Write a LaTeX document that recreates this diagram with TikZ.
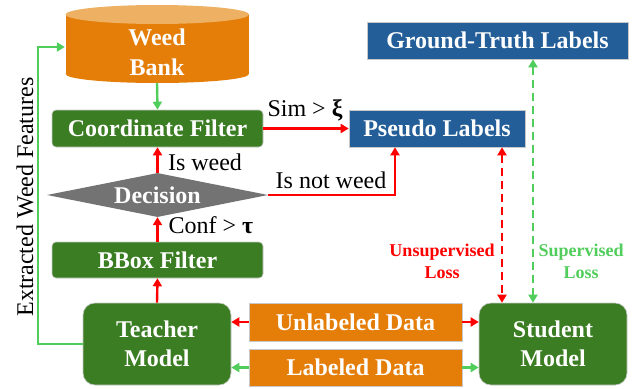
\documentclass[tikz,border=0pt]{standalone}
\usepackage{fontspec}
\setmainfont{Liberation Serif}
\usetikzlibrary{arrows.meta,shapes.geometric,calc}

\definecolor{tgreen}{RGB}{59,125,35}
\definecolor{torange}{RGB}{228,126,8}
\definecolor{ttop}{RGB}{238,176,98}
\definecolor{tblue}{RGB}{35,94,152}
\definecolor{tgray}{RGB}{115,115,115}
\definecolor{lgreen}{RGB}{80,205,90}
\definecolor{tred}{RGB}{255,0,0}
\definecolor{edge}{RGB}{200,200,200}

\tikzset{
  big/.style={font=\fontsize{24}{29}\selectfont\bfseries},
  gbox/.style={big, fill=tgreen, text=white, draw=edge, line width=0.6pt,
    rounded corners=4pt, inner sep=0pt, align=center},
  mbox/.style={gbox, rounded corners=12pt},
  obox/.style={big, fill=torange, text=white, draw=edge, line width=0.6pt, inner sep=0pt},
  bbox/.style={big, fill=tblue, text=white, draw=edge, line width=0.6pt, inner sep=0pt},
  lbl/.style={font=\fontsize{24}{26}\selectfont, inner sep=0pt},
  loss/.style={font=\fontsize{18}{22}\selectfont\bfseries, align=center, inner sep=0pt},
  tip/.style={-{Triangle[length=8pt,width=9pt]}},
  redarr/.style={tip, draw=tred, line width=2.4pt},
  grnarr/.style={tip, draw=lgreen, line width=2.4pt},
  dashline/.style={dash pattern=on 8pt off 5pt, line width=2.4pt,
    {Triangle[length=8pt,width=9pt]}-{Triangle[length=8pt,width=9pt]}}
}

\begin{document}
\begin{tikzpicture}[x=1pt,y=-1pt]
\useasboundingbox (0,0) rectangle (644,388);

% weed bank cylinder
\fill[torange] (65.5,14.5) rectangle (249,74);
\fill[torange] (157.25,74) ellipse [x radius=91.75, y radius=9];
\fill[ttop] (157.25,14.5) ellipse [x radius=91.75, y radius=9.5];
\node[minimum width=184pt, minimum height=78pt, inner sep=0pt] (bank) at (157,44) {};
\node[big, text=white, align=center, font=\fontsize{24}{30}\selectfont\bfseries]
  (banktext) at (157,52) {Weed\\Bank};

% left column
\node[gbox, minimum width=211pt, minimum height=37pt] (cf) at (157.5,128.5) {Coordinate Filter};
\node[diamond, fill=tgray, text=white, big, inner sep=0pt, aspect=5,
      minimum width=221pt, minimum height=44pt] (dec) at (157.5,195) {\raisebox{-3pt}{Decision}};
\node[gbox, minimum width=211pt, minimum height=36pt] (bf) at (157.5,260) {BBox Filter};
\node[mbox, minimum width=148pt, minimum height=82pt] (teacher) at (157,344) {Teacher\\Model};

% data boxes and student
\node[obox, minimum width=213pt, minimum height=38pt] (unl) at (355.5,322) {Unlabeled Data};
\node[obox, minimum width=213pt, minimum height=37pt] (lab) at (355.5,367.5) {Labeled Data};
\node[mbox, minimum width=148pt, minimum height=82pt] (student) at (553,344) {Student\\Model};

% label boxes
\node[bbox, minimum width=176pt, minimum height=37pt] (pseudo) at (437,128.5) {Pseudo Labels};
\node[bbox, minimum width=261pt, minimum height=37pt] (gt) at (497.5,40.5) {Ground-Truth Labels};

% text labels
\node[lbl] (isweed) at (205,162) {Is weed};
\node[lbl] (conf) at (211,225) {Conf > \textbf{τ}};
\node[lbl] (sim) at (305,110) {Sim > \textbf{ξ}};
\node[lbl] (isnot) at (331,180) {Is not weed};
\node[lbl, rotate=90] (extr) at (25,197) {Extracted Weed Features};
\node[loss, text=tred] (uloss) at (442,261) {Unsupervised\\Loss};
\node[loss, text=lgreen] (sloss) at (581,261) {Supervised\\Loss};

% solid connectors
\draw[grnarr] (bank.south) -- (cf.north);
\draw[redarr] (dec.north) -- (cf.south);
\draw[redarr] (bf.north) -- (dec.south);
\draw[redarr] (teacher.north) -- (bf.south);
\draw[redarr] (cf.east) -- (pseudo.west);
\draw[redarr] (dec.east) -| ([xshift=-42pt]pseudo.south);
\draw[redarr] (unl.west) -- (unl.west -| teacher.east);
\draw[redarr] (unl.east) -- (unl.east -| student.west);
\draw[grnarr] (lab.west) -- (lab.west -| teacher.east);
\draw[grnarr] (lab.east) -- (lab.east -| student.west);
\coordinate (fcorner) at (38,47);
\draw[grnarr] (teacher.west) -| (fcorner) -- (fcorner -| bank.west);

% loss connectors
\draw[dashline, draw=tred] (pseudo.south -| 502,0) -- (student.north -| 502,0);
\draw[dashline, draw=lgreen] (gt.south -| 533,0) -- (student.north -| 533,0);
\end{tikzpicture}
\end{document}
